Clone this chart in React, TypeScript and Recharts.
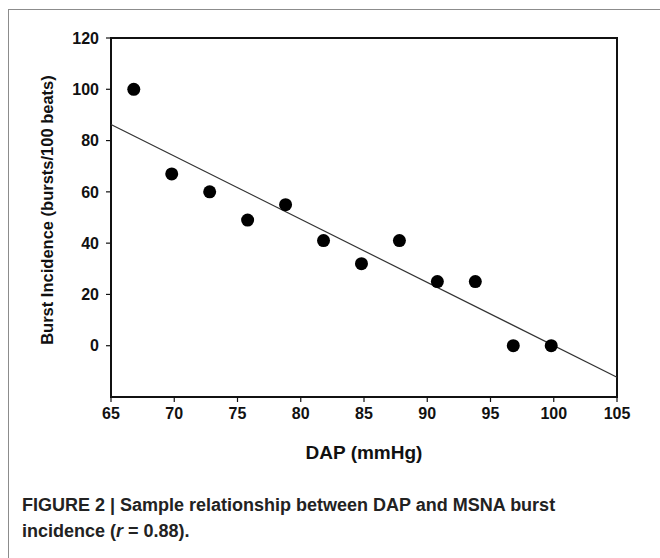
import { ScatterChart, Scatter, XAxis, YAxis, ReferenceArea, ReferenceLine, Label } from "recharts";

// DAP (mmHg) vs burst incidence
const dapValues = [66.8, 69.8, 72.8, 75.8, 78.8, 81.8, 84.8, 87.8, 90.8, 93.8, 96.8, 99.8];
const burstValues = [100, 67, 60, 49, 55, 41, 32, 41, 25, 25, 0, 0];

// regression line end points
const fitDap = [65, 105];
const fitBurst = [86.3, -12.3];

const xTicks = [65, 70, 75, 80, 85, 90, 95, 100, 105];
const yTicks = [0, 20, 40, 60, 80, 100, 120];

const points = dapValues.map((dap, i) => ({ dap, burst: burstValues[i] }));

const sans = "'Liberation Sans', Arial, sans-serif";

function Dot(props: any) {
  return <circle cx={props.cx} cy={props.cy} r={6.5} fill="#000" />;
}

export default function App() {
  return (
    <div style={{ position: "relative", width: 660, height: 558, overflow: "hidden", background: "#fff" }}>
      <style>{`body{margin:0}`}</style>
      <div
        style={{
          position: "absolute",
          left: 8,
          top: 9,
          width: 720,
          height: 620,
          border: "1.5px solid #8c8c8c",
        }}
      />
      <div style={{ position: "absolute", left: 0, top: 0 }}>
        <ScatterChart
          width={660}
          height={480}
          margin={{ top: 38, right: 43, left: 51, bottom: 53 }}
        >
          <XAxis
            type="number"
            dataKey="dap"
            domain={[65, 105]}
            ticks={xTicks}
            allowDataOverflow
            height={30}
            axisLine={false}
            tickLine={{ stroke: "#111", strokeWidth: 1.2 }}
            tickSize={5}
            tickMargin={6}
            tick={{ fontSize: 16, fontWeight: 700, fill: "#111", fontFamily: sans }}
          >
            <Label
              content={() => (
                <text
                  x={364}
                  y={452}
                  textAnchor="middle"
                  dominantBaseline="central"
                  fontSize={19}
                  fontWeight={700}
                  fill="#111"
                  fontFamily={sans}
                >
                  DAP (mmHg)
                </text>
              )}
            />
          </XAxis>
          <YAxis
            type="number"
            dataKey="burst"
            domain={[-20, 120]}
            ticks={yTicks}
            allowDataOverflow
            width={60}
            axisLine={false}
            tickLine={{ stroke: "#111", strokeWidth: 1.2 }}
            tickSize={5}
            tickMargin={7}
            tick={{ fontSize: 16, fontWeight: 700, fill: "#111", fontFamily: sans }}
          >
            <Label
              content={() => (
                <text
                  x={47}
                  y={210}
                  transform="rotate(-90 47 210)"
                  textAnchor="middle"
                  dominantBaseline="central"
                  fontSize={16.5}
                  fontWeight={700}
                  fill="#111"
                  fontFamily={sans}
                >
                  Burst Incidence (bursts/100 beats)
                </text>
              )}
            />
          </YAxis>
          <ReferenceLine
            segment={[
              { x: fitDap[0], y: fitBurst[0] },
              { x: fitDap[1], y: fitBurst[1] },
            ]}
            stroke="#333"
            strokeWidth={1.2}
          />
          <ReferenceArea
            x1={65}
            x2={105}
            y1={-20}
            y2={120}
            fill="none"
            stroke="#111"
            strokeWidth={2}
          />
          <Scatter data={points} shape={Dot} isAnimationActive={false} />
        </ScatterChart>
      </div>
      <div
        style={{
          position: "absolute",
          left: 22,
          top: 492,
          fontFamily: sans,
          fontWeight: 700,
          fontSize: 18,
          lineHeight: "26px",
          color: "#222",
        }}
      >
        FIGURE 2 | Sample relationship between DAP and MSNA burst
        <br />
        incidence (<i>r</i> = 0.88).
      </div>
    </div>
  );
}
